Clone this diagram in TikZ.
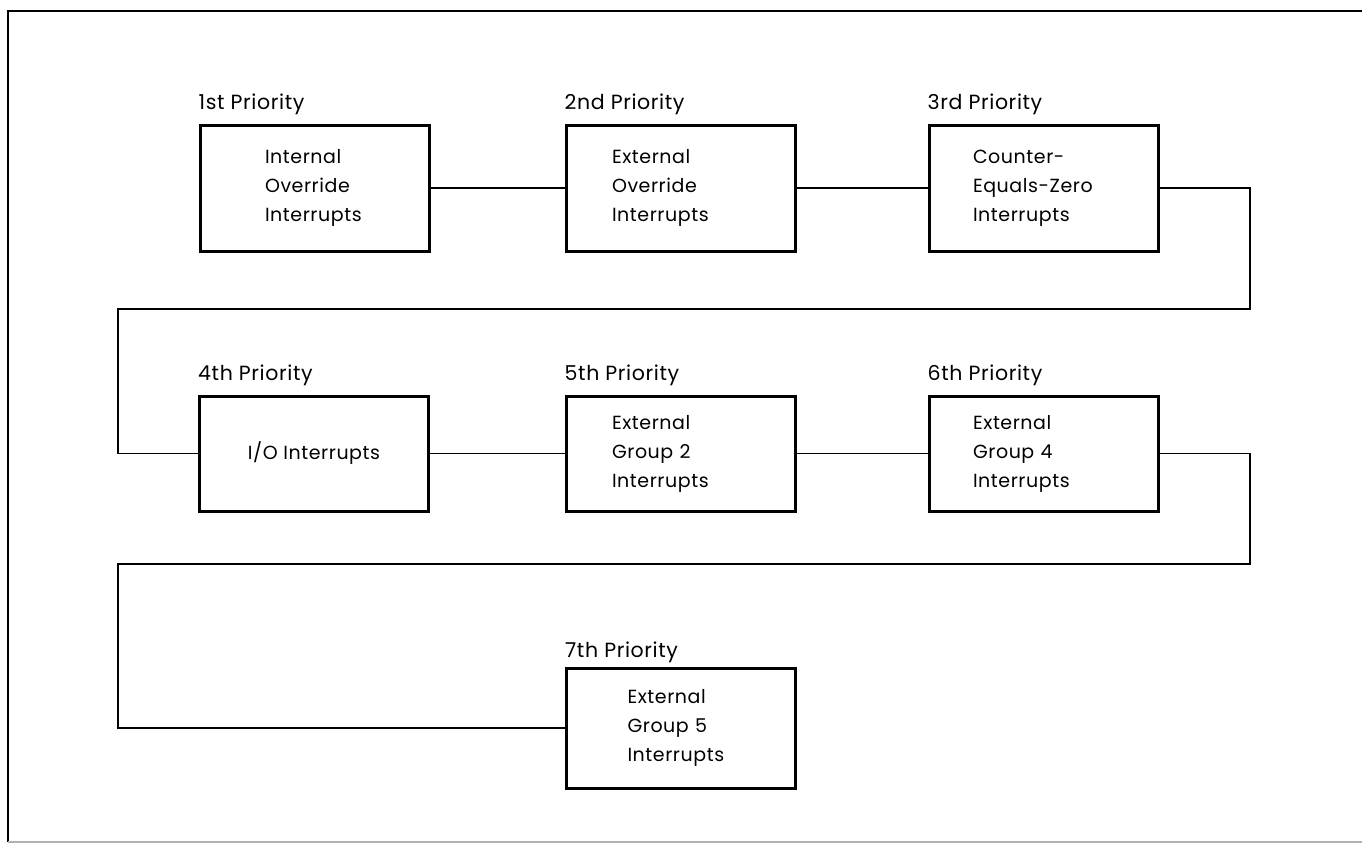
\documentclass[tikz,border=0pt]{standalone}
\usepackage{fontspec}
\setmainfont{Poppins}[LetterSpace=3]
\begin{document}
\begin{tikzpicture}[x=1pt,y=-1pt,
  box/.style={draw,line width=3pt,minimum width=229pt,minimum height=#1,inner sep=0pt,
    font=\fontsize{19}{29}\selectfont,align=left},
  box/.default=126pt,
  lab/.style={anchor=base west,inner sep=0pt,font=\fontsize{20.5}{24}\selectfont},
  conn/.style={line width=1.5pt},
  frame/.style={line width=2.4pt}]
\useasboundingbox (0,0) rectangle (1362,844);
% frame
\coordinate (f1) at (8,11);
\coordinate (f2) at (1362,11);
\coordinate (f3) at (8,842);
\coordinate (f4) at (1362,842);
\draw[frame] (f2) -- (f1) -- (f3);
\draw[line width=1.5pt,gray!60] (f3) -- (f4);
% row 1
\node[box,text width=99pt]  (b1) at (314.5,188) {Internal\\Override\\Interrupts};
\node[box,text width=137pt] (b2) at (680.5,188) {External\\Override\\Interrupts};
\node[box,text width=141pt] (b3) at (1043.5,188) {Counter-\\Equals-Zero\\Interrupts};
% row 2
\node[box=115pt,align=center] (b4) at (314,453.5) {I/O Interrupts};
\node[box=115pt,text width=137pt] (b5) at (680.5,453.5) {External\\Group 2\\Interrupts};
\node[box=115pt,text width=141pt] (b6) at (1043.5,453.5) {External\\Group 4\\Interrupts};
% row 3
\node[box=120pt,text width=107pt] (b7) at (681,728) {External\\Group 5\\Interrupts};
% labels
\node[lab] (l1) at (b1.north west) [yshift=14pt] {1st Priority};
\node[lab] (l2) at (b2.north west) [yshift=14pt] {2nd Priority};
\node[lab] (l3) at (b3.north west) [yshift=14pt] {3rd Priority};
\node[lab] (l4) at (b4.north west) [yshift=14pt] {4th Priority};
\node[lab] (l5) at (b5.north west) [yshift=14pt] {5th Priority};
\node[lab] (l6) at (b6.north west) [yshift=14pt] {6th Priority};
\node[lab] (l7) at (b7.north west) [yshift=9pt] {7th Priority};
% corner coordinates
\coordinate (r1) at (1250,309);
\coordinate (q1) at (118,309);
\coordinate (r2) at (1250,564);
\coordinate (q2) at (118,564);
% connectors
\draw[conn] (b1.east) -- (b2.west);
\draw[conn] (b2.east) -- (b3.west);
\draw[conn] (b3.east) -| (r1) -- (q1) |- (b4.west);
\draw[conn] (b4.east) -- (b5.west);
\draw[conn] (b5.east) -- (b6.west);
\draw[conn] (b6.east) -| (r2) -- (q2) |- (b7.west);
\end{tikzpicture}
\end{document}
